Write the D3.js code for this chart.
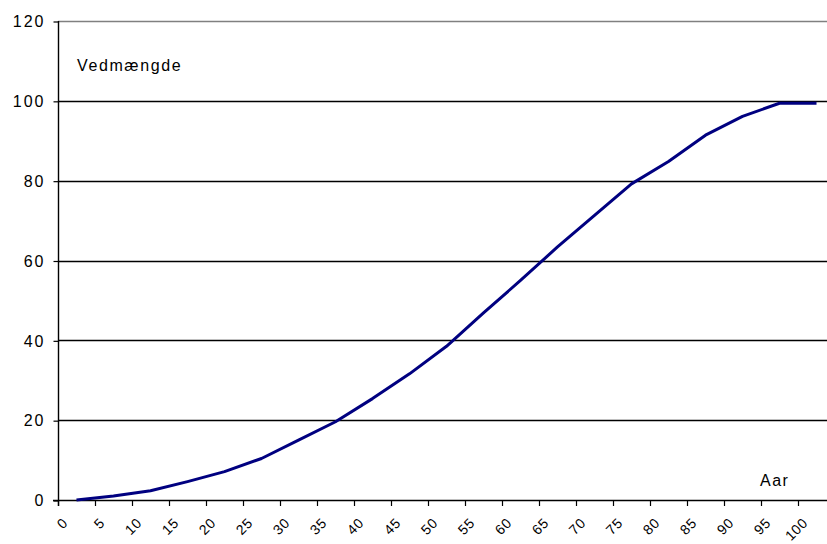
<!DOCTYPE html>
<html>
<head>
<meta charset="utf-8">
<script src="https://cdn.jsdelivr.net/npm/d3@7"></script>
<style>
  html, body { margin: 0; padding: 0; background: #ffffff; }
  svg { display: block; }
  text { font-family: "Liberation Sans", Arial, sans-serif; fill: #000; }
</style>
</head>
<body>
<svg id="chart" width="827" height="544"></svg>
<script>
// Age classes (years) on the category axis
const years = [0, 5, 10, 15, 20, 25, 30, 35, 40, 45, 50, 55, 60, 65, 70, 75, 80, 85, 90, 95, 100];
// Timber volume (relative, %) for each age class
const volume = [0, 1.0, 2.3, 4.6, 7.1, 10.4, 15.0, 19.6, 25.4, 31.6, 38.5, 46.9, 55.0, 63.4, 71.3, 79.2, 84.8, 91.4, 96.1, 99.4, 99.4];
// Value-axis tick labels
const yTicks = [0, 20, 40, 60, 80, 100, 120];

const yTitle = "Vedmængde";
const xTitle = "Aar";

const svg = d3.select("#chart");

const plotLeft = 58, plotBottom = 500, plotTop = 21, band = 37;

const x = d3.scaleBand()
  .domain(years)
  .range([plotLeft, plotLeft + band * years.length])
  .paddingInner(0).paddingOuter(0);

const y = d3.scaleLinear()
  .domain([0, 120])
  .range([plotBottom, plotTop]);

// Horizontal gridlines
svg.append("g")
  .selectAll("line")
  .data(yTicks.filter(d => d > 0))
  .join("line")
  .attr("x1", plotLeft).attr("x2", 827)
  .attr("y1", d => Math.round(y(d)) + 0.5)
  .attr("y2", d => Math.round(y(d)) + 0.5)
  .attr("stroke", d => d === 120 ? "#808080" : "#000")
  .attr("stroke-width", 1.3);

// Value axis
const yAxis = svg.append("g")
  .attr("transform", `translate(${plotLeft + 0.5},0)`)
  .call(d3.axisLeft(y).tickValues(yTicks).tickSize(5).tickPadding(10)
    .tickFormat(d3.format("d")));
yAxis.select(".domain").attr("stroke", "#000").attr("stroke-width", 1.4)
  .attr("d", `M0,${y(120)}V${plotBottom + 6}`);
yAxis.selectAll(".tick line").attr("stroke", "#000").attr("stroke-width", 1.2)
  .attr("transform", "translate(0,0.5)");
yAxis.selectAll(".tick text")
  .attr("font-size", 16)
  .attr("letter-spacing", "2px")
  .attr("x", -13)
  .attr("dy", "0.36em");

// Category axis: tick marks sit between categories
const xAxisG = svg.append("g");
xAxisG.append("line")
  .attr("x1", plotLeft - 5).attr("x2", 827)
  .attr("y1", plotBottom + 0.5).attr("y2", plotBottom + 0.5)
  .attr("stroke", "#000").attr("stroke-width", 1.4);
xAxisG.selectAll("line.tk")
  .data(years)
  .join("line")
  .attr("class", "tk")
  .attr("x1", d => Math.round(x(d)) + 0.5)
  .attr("x2", d => Math.round(x(d)) + 0.5)
  .attr("y1", plotBottom).attr("y2", plotBottom + 6)
  .attr("stroke", "#000").attr("stroke-width", 1.2);

// Rotated category labels
xAxisG.selectAll("text")
  .data(years)
  .join("text")
  .attr("transform", d => `translate(${x(d) + band / 2 - 8},${plotBottom + 24}) rotate(-45)`)
  .attr("text-anchor", "end")
  .attr("font-size", 14)
  .attr("letter-spacing", "0.5px")
  .text(d => d);

// Growth curve
const line = d3.line()
  .x((d, i) => x(years[i]) + x.bandwidth() / 2)
  .y(d => y(d));

svg.append("path")
  .datum(volume)
  .attr("d", line)
  .attr("fill", "none")
  .attr("stroke", "#000080")
  .attr("stroke-width", 3)
  .attr("stroke-linejoin", "round");

// Axis titles inside the plot area
svg.append("text")
  .attr("x", 77).attr("y", 71)
  .attr("font-size", 16)
  .attr("letter-spacing", "1.6px")
  .text(yTitle);

svg.append("text")
  .attr("x", 760).attr("y", 486)
  .attr("font-size", 16)
  .attr("letter-spacing", "1.5px")
  .text(xTitle);
</script>
</body>
</html>
